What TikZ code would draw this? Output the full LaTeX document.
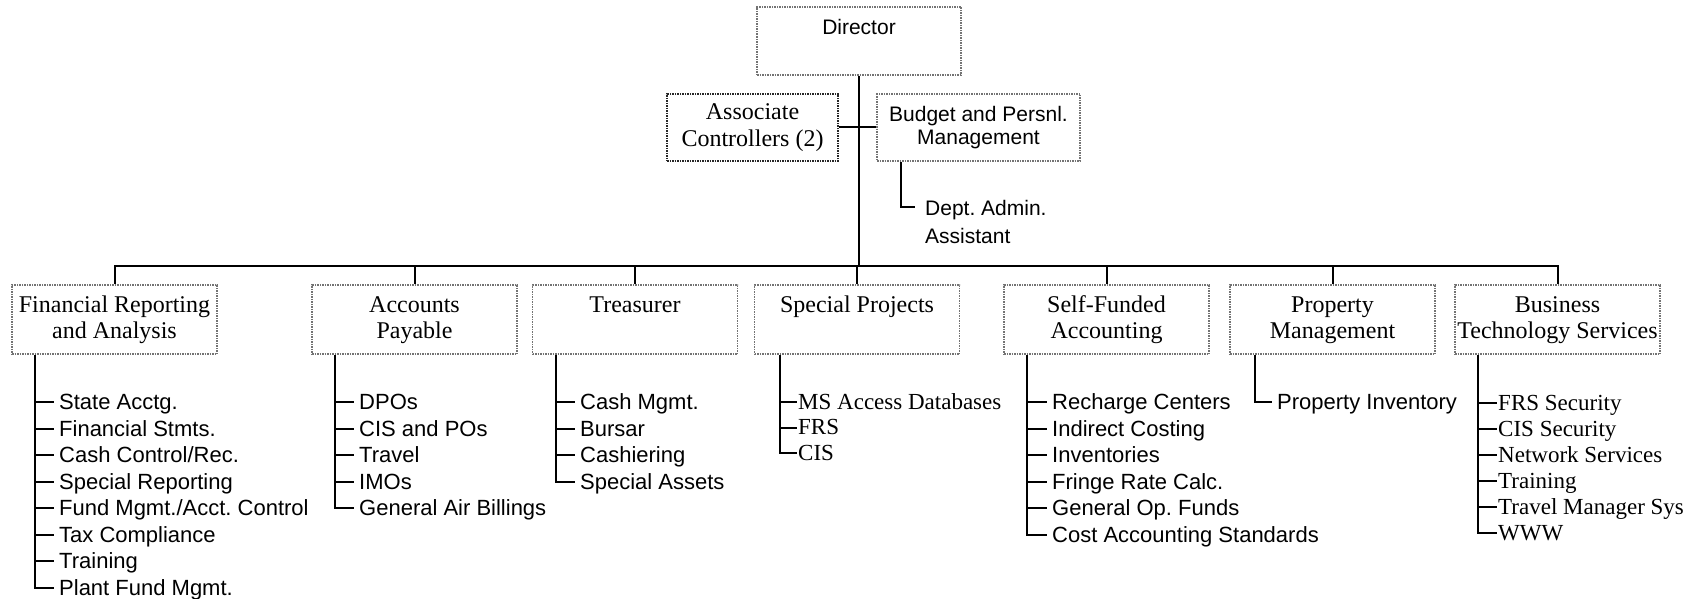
\documentclass[tikz,border=0pt]{standalone}
\usepackage{fontspec}
\setmainfont{Liberation Serif}
\setsansfont{Liberation Sans}
\frenchspacing
\newcommand\boxtext[1]{\parbox[c][69pt][t]{205pt}{\centering\fontsize{24}{26}\selectfont\rule{0pt}{27pt}#1}}
\begin{document}
\frenchspacing
\begin{tikzpicture}[x=1pt,y=-1pt,
  conn/.style={line width=2pt, black},
  unitbox/.style={draw=black!55, densely dotted, line width=1.5pt, inner sep=0pt},
  sitem/.style={anchor=west, inner xsep=5pt, inner ysep=0pt, text height=15pt, text depth=0pt, font=\sffamily\fontsize{22}{26}\selectfont},
  ritem/.style={anchor=west, inner xsep=1pt, inner ysep=0pt, text height=14pt, text depth=0pt, font=\fontsize{23}{26}\selectfont},
]
\useasboundingbox (0,0) rectangle (1695,599);

% top level
\node[unitbox] (dir) at (859,41) {\parbox[c][68pt][t]{204pt}{\centering\sffamily\fontsize{21}{24}\selectfont\rule{0pt}{28pt}Director}};
\node[draw=black!85, densely dotted, line width=1.5pt, inner sep=0pt, minimum width=171pt, minimum height=67pt, align=center, font=\fontsize{24}{27}\selectfont] (ac) at (752.5,127.5) {Associate\\Controllers (2)};
\node[unitbox, minimum width=203pt, minimum height=67pt, align=center, font=\sffamily\fontsize{21}{23}\selectfont] (bud) at (978.5,127.5) {Budget and Persnl.\\Management};
\node[anchor=north west, inner xsep=10pt, inner ysep=0pt, align=left, font=\sffamily\fontsize{21}{28}\selectfont] (dept) at (915,199) {\rule{0pt}{16pt}Dept. Admin.\\Assistant};

% units
\node[unitbox] (fin) at (114.5,319.5) {\boxtext{Financial Reporting\\and Analysis}};
\node[unitbox] (ap) at (414.5,319.5) {\boxtext{Accounts\\Payable}};
\node[unitbox] (tr) at (635,319.5) {\boxtext{Treasurer}};
\node[unitbox] (sp) at (857,319.5) {\boxtext{Special Projects}};
\node[unitbox] (sf) at (1106.5,319.5) {\boxtext{Self-Funded\\Accounting}};
\node[unitbox] (pm) at (1332.5,319.5) {\boxtext{Property\\Management}};
\node[unitbox] (bt) at (1557.5,319.5) {\boxtext{Business\\Technology Services}};

% items
\foreach \lbl [count=\i] in {State Acctg., Financial Stmts., Cash Control/Rec., Special Reporting, Fund Mgmt./Acct. Control, Tax Compliance, Training, Plant Fund Mgmt.}
  \node[sitem] (fin\i) at (54,{402+26.5*(\i-1)}) {\lbl};
\foreach \lbl [count=\i] in {DPOs, CIS and POs, Travel, IMOs, General Air Billings}
  \node[sitem] (ap\i) at (354,{402+26.5*(\i-1)}) {\lbl};
\foreach \lbl [count=\i] in {Cash Mgmt., Bursar, Cashiering, Special Assets}
  \node[sitem] (tr\i) at (575,{402+26.5*(\i-1)}) {\lbl};
\foreach \lbl [count=\i] in {MS Access Databases, FRS, CIS}
  \node[ritem] (sp\i) at (797,{402+25.5*(\i-1)}) {\lbl};
\foreach \lbl [count=\i] in {Recharge Centers, Indirect Costing, Inventories, Fringe Rate Calc., General Op. Funds, Cost Accounting Standards}
  \node[sitem] (sf\i) at (1047,{402+26.5*(\i-1)}) {\lbl};
\node[sitem] (pm1) at (1272,402) {Property Inventory};
\foreach \lbl [count=\i] in {FRS Security, CIS Security, Network Services, Training, Travel Manager Sys, WWW}
  \node[ritem] (bt\i) at (1497,{403+26*(\i-1)}) {\lbl};

% branch coordinates
\coordinate (finb) at ([xshift=24pt]fin.south west);
\coordinate (apb) at ([xshift=24pt]ap.south west);
\coordinate (trb) at ([xshift=24pt]tr.south west);
\coordinate (spb) at ([xshift=26pt]sp.south west);
\coordinate (sfb) at ([xshift=24pt]sf.south west);
\coordinate (pmb) at ([xshift=26pt]pm.south west);
\coordinate (btb) at ([xshift=24pt]bt.south west);

\foreach \i in {1,...,8} \draw[conn] (finb) |- (fin\i.west);
\foreach \i in {1,...,5} \draw[conn] (apb) |- (ap\i.west);
\foreach \i in {1,...,4} \draw[conn] (trb) |- (tr\i.west);
\foreach \i in {1,...,3} \draw[conn] (spb) |- (sp\i.west);
\foreach \i in {1,...,6} \draw[conn] (sfb) |- (sf\i.west);
\draw[conn] (pmb) |- (pm1.west);
\foreach \i in {1,...,6} \draw[conn] (btb) |- (bt\i.west);

% top connectors
\coordinate (busy) at (0,266);
\draw[conn] (dir.south) -- (dir.south |- busy);
\draw[conn] (ac.east) -- (bud.west);
\draw[conn] (fin.north) -- (fin.north |- busy) -- (bt.north |- busy) -- (bt.north);
\foreach \u in {ap,tr,sp,sf,pm} \draw[conn] (\u.north) -- (\u.north |- busy);
\draw[conn] ([xshift=25pt]bud.south west) |- ([yshift=-8pt]dept.north west);
\end{tikzpicture}
\end{document}
